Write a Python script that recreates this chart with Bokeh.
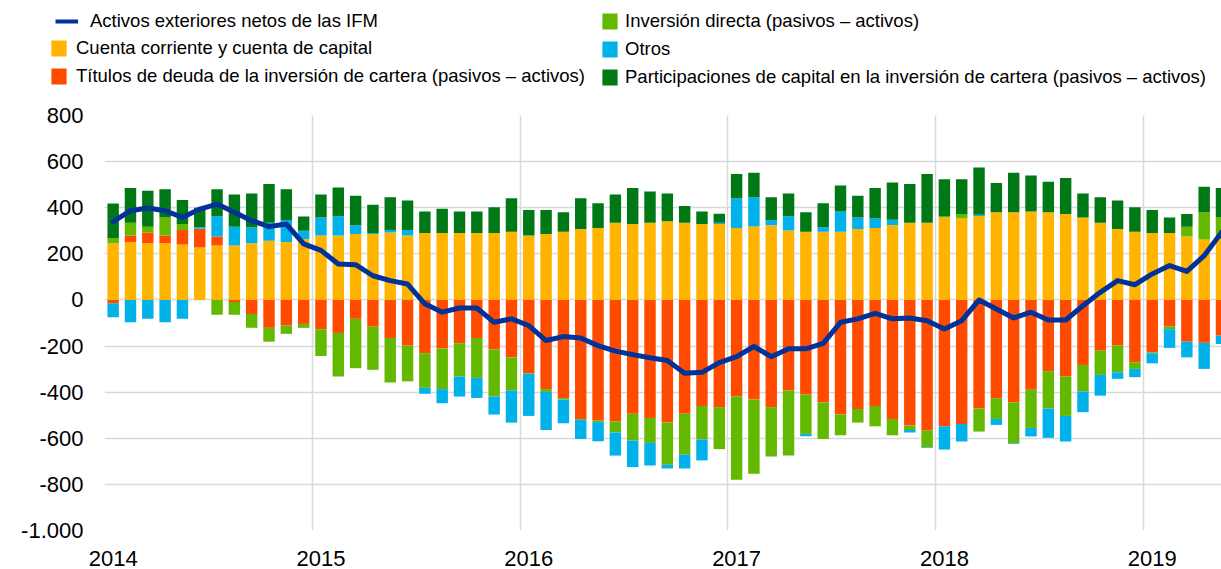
import numpy as np
from bokeh.plotting import figure
from bokeh.layouts import column
from bokeh.models import ColumnDataSource, FixedTicker, Legend, LegendItem, Range1d
from bokeh.embed import file_html
from bokeh.resources import INLINE

# ---- data (EUR billions, 12-month cumulated), Jan 2014 .. May 2019 ----
years = ["2014", "2015", "2016", "2017", "2018", "2019"]

cuenta_corriente = [246, 251, 246, 246, 240, 228, 236, 236, 246, 257, 251, 264,
                    279, 279, 286, 286, 292, 279, 290, 290, 290, 290, 290, 296,
                    279, 286, 296, 308, 312, 335, 329, 335, 341, 335, 329, 329,
                    312, 319, 324, 301, 296, 296, 296, 308, 312, 325, 335, 335,
                    358, 353, 364, 380, 380, 384, 380, 373, 358, 335, 308, 296,
                    290, 290, 275, 262, 264]

titulos_deuda = [-14, 28, 46, 33, 63, 81, 39, -9, -61, -121, -110, -104,
                 -127, -143, -82, -116, -165, -198, -231, -210, -188, -165, -214, -249,
                 -318, -387, -426, -516, -523, -527, -494, -512, -532, -494, -460, -465,
                 -419, -432, -465, -393, -410, -444, -497, -473, -460, -516, -545, -566,
                 -548, -538, -471, -426, -444, -389, -309, -332, -282, -220, -198, -270,
                 -227, -114, -181, -186, -155]

inversion_directa = [23, 56, 26, 79, 26, 0, -64, -55, -60, -60, -37, -17,
                     -116, -189, -214, -187, -193, -155, -150, -177, -144, -173, -205, -144,
                     -3, -12, -6, -4, -7, -48, -116, -108, -183, -176, -145, -182,
                     -361, -322, -214, -282, -171, -159, -90, -59, -88, -71, -19, -73,
                     4, 20, -100, -90, -177, -166, -162, -171, -115, -105, -116, -29,
                     -4, -13, 43, 118, 94]

otros = [-61, -97, -82, -97, -82, 6, 88, 82, 69, 78, 96, 36,
         79, 84, 38, 4, 11, 24, -26, -61, -87, -87, -78, -139,
         -182, -165, -103, -83, -83, -100, -115, -98, -16, -61, -91, 6,
         129, 126, 23, 62, -10, 19, 88, 50, 42, 23, -11, -3,
         -101, -76, 6, -26, -3, -37, -127, -111, -90, -90, -28, -36,
         -44, -81, -68, -113, -36]

participaciones = [149, 151, 156, 122, 105, 85, 117, 139, 147, 168, 133, 62,
                   99, 125, 128, 123, 142, 128, 94, 106, 94, 94, 112, 145,
                   111, 104, 84, 133, 107, 122, 157, 135, 121, 72, 55, 39,
                   105, 107, 98, 99, 84, 104, 112, 94, 132, 161, 168, 211,
                   161, 150, 205, 127, 172, 156, 133, 156, 104, 110, 123, 106,
                   100, 68, 55, 111, 128]

activos_ifm = [340, 387, 399, 387, 358, 394, 416, 380, 344, 318, 329, 243,
               215, 156, 153, 105, 84, 69, -17, -53, -35, -35, -97, -82,
               -111, -176, -159, -165, -198, -222, -237, -251, -263, -318, -314, -272,
               -246, -202, -246, -212, -212, -188, -97, -82, -58, -82, -78, -90,
               -126, -90, 0, -39, -78, -53, -87, -87, -25, 33, 84, 66,
               113, 149, 124, 192, 293]

y_ticks = [-1000, -800, -600, -400, -200, 0, 200, 400, 600, 800]
y_labels = ["-1.000", "-800", "-600", "-400", "-200", "0", "200", "400", "600", "800"]

names = {
    "line": "Activos exteriores netos de las IFM",
    "cc": "Cuenta corriente y cuenta de capital",
    "td": "Títulos de deuda de la inversión de cartera (pasivos – activos)",
    "id": "Inversión directa (pasivos – activos)",
    "ot": "Otros",
    "pc": "Participaciones de capital en la inversión de cartera (pasivos – activos)",
}
colors = {"line": "#003299", "cc": "#FFB400", "td": "#FF4B00", "id": "#65B800",
          "ot": "#00B1EA", "pc": "#007816"}
bar_keys = ["cc", "td", "id", "ot", "pc"]

n = len(activos_ifm)
x = np.arange(n) + 0.5

FONT = "Liberation Sans"

# ---------------- main chart ----------------
p = figure(width=1221, height=474, output_backend="svg", toolbar_location=None,
           x_range=Range1d(0, 64.5), y_range=Range1d(-1000, 800),
           min_border_left=104, min_border_right=0, min_border_top=20,
           min_border_bottom=39)
p.outline_line_color = None
p.background_fill_color = "white"

pos = np.zeros(n)
neg = np.zeros(n)
for key, vals in zip(bar_keys, [cuenta_corriente, titulos_deuda, inversion_directa,
                                otros, participaciones]):
    v = np.array(vals, dtype=float)
    bottom = np.where(v >= 0, pos, neg)
    top = bottom + v
    pos = np.where(v >= 0, top, pos)
    neg = np.where(v < 0, top, neg)
    src = ColumnDataSource(dict(x=x, bottom=bottom, top=top))
    p.vbar(x="x", bottom="bottom", top="top", width=0.66, source=src,
           fill_color=colors[key], line_color=None)

p.line(x, activos_ifm, line_color=colors["line"], line_width=5,
       line_join="round", line_cap="round")

p.yaxis.ticker = FixedTicker(ticks=y_ticks)
p.yaxis.major_label_overrides = {t: l for t, l in zip(y_ticks, y_labels)}
year_pos = [0.5 + 12 * i for i in range(len(years))]
p.xaxis.ticker = FixedTicker(ticks=year_pos)
p.xaxis.major_label_overrides = {t: l for t, l in zip(year_pos, years)}
for ax in (p.xaxis[0], p.yaxis[0]):
    ax.axis_line_color = None
    ax.major_tick_line_color = None
    ax.minor_tick_line_color = None
    ax.major_tick_out = 0
    ax.major_tick_in = 0
    ax.major_label_text_font = FONT
    ax.major_label_text_font_size = "22px"
    ax.major_label_text_color = "#000000"
p.yaxis.major_label_standoff = 21
p.xaxis.major_label_standoff = 20

p.xgrid.ticker = FixedTicker(ticks=[12 * i for i in range(len(years))])
p.xgrid.grid_line_color = "#d9d9d9"
p.xgrid.grid_line_width = 1.5
p.ygrid.ticker = FixedTicker(ticks=y_ticks)
p.ygrid.grid_line_color = "#d9d9d9"
p.ygrid.grid_line_width = 1.5

# ---------------- legend strip ----------------
lg = figure(width=1221, height=95, output_backend="svg", toolbar_location=None,
            x_range=Range1d(0, 1), y_range=Range1d(0, 1),
            x_axis_type=None, y_axis_type=None,
            min_border_left=0, min_border_right=0, min_border_top=0, min_border_bottom=0)
lg.outline_line_color = None
lg.xgrid.visible = False
lg.ygrid.visible = False

# keep the two plots' frames independent (legend strip spans the full width)
for fig in (lg, p):
    if "frame_align" in fig.properties():
        fig.frame_align = False

nan = float("nan")
leg_r = {"line": lg.line(x=[nan], y=[nan], line_color=colors["line"], line_width=4)}
for key in bar_keys:
    leg_r[key] = lg.vbar(x=[nan], top=[nan], width=0.5, fill_color=colors[key],
                         line_color=None)


def make_legend(keys, loc, glyph_width=19, standoff=8):
    leg = Legend(items=[LegendItem(label=names[k], renderers=[leg_r[k]]) for k in keys],
                 location=loc, orientation="vertical")
    leg.label_text_font = FONT
    leg.label_text_font_size = "18.5px"
    leg.label_text_color = "#000000"
    leg.glyph_width = glyph_width
    leg.glyph_height = 20
    leg.label_height = 22
    leg.spacing = 6
    leg.padding = 0
    leg.margin = 0
    leg.label_standoff = standoff
    leg.border_line_color = None
    leg.background_fill_alpha = 0
    return leg


lg.add_layout(make_legend(["line"], (55, 63), glyph_width=23, standoff=12))
lg.add_layout(make_legend(["cc", "td"], (49, 8)))
lg.add_layout(make_legend(["id", "ot", "pc"], (600, 7), standoff=6))

layout = column(lg, p, spacing=0)
open("out.html", "w").write(file_html(layout, INLINE))
